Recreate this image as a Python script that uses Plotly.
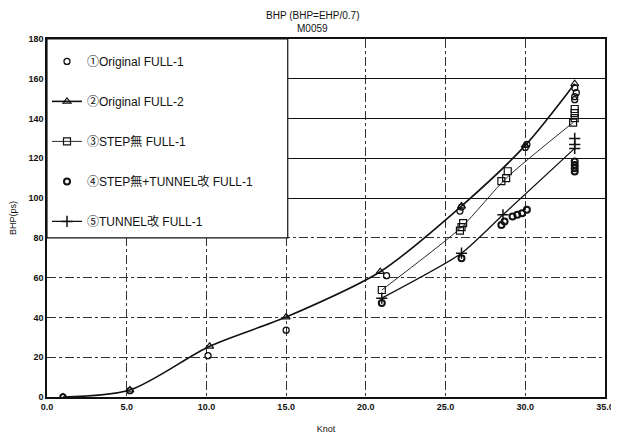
import plotly.graph_objects as go

# ---- data ----
# ① Original FULL-1 (markers only)
x1 = [1.0, 5.2, 10.1, 15.0, 21.3, 25.9, 26.0, 30.0, 30.1, 33.1, 33.2, 33.1, 33.1]
y1 = [0.0, 3.2, 20.8, 33.6, 61.0, 93.5, 95.5, 125.5, 127.0, 155.5, 153.0, 151.0, 149.5]
# ② Original FULL-2 (line + triangles)
x2 = [1.0, 5.2, 10.2, 15.0, 20.9, 26.0, 30.0, 33.1]
y2 = [0.0, 3.5, 25.5, 40.2, 63.0, 96.0, 126.5, 157.5]
# ③ STEP無 FULL-1 (line through one point per speed + extra runs)
x3 = [21.0, 26.0, 28.8, 33.0]
y3 = [53.8, 85.4, 110.0, 138.0]
x3_extra = [26.1, 25.9, 28.5, 28.9, 33.1, 33.1, 33.1]
y3_extra = [87.4, 83.7, 108.5, 113.5, 144.8, 142.7, 140.2]
# ④ STEP無+TUNNEL改 FULL-1 (markers only)
x4 = [21.0, 26.0, 28.5, 28.7, 29.2, 29.5, 29.8, 30.1, 33.1, 33.1, 33.1, 33.1]
y4 = [47.2, 69.8, 86.5, 88.2, 90.7, 91.6, 92.4, 94.1, 118.4, 116.7, 115.0, 113.4]
# ⑤ TUNNEL改 FULL-1 (line + crosses)
x5 = [21.0, 26.0, 28.6, 33.1]
y5 = [49.7, 72.3, 91.6, 125.0]
x5_extra = [33.1, 33.1]
y5_extra = [130.0, 127.0]

names = ["①Original FULL-1", "②Original FULL-2", "③STEP無 FULL-1",
         "④STEP無+TUNNEL改 FULL-1", "⑤TUNNEL改 FULL-1"]
title_lines = ["BHP (BHP=EHP/0.7)", "M0059"]

x_ticks = [0, 5, 10, 15, 20, 25, 30, 35]
y_ticks = [0, 20, 40, 60, 80, 100, 120, 140, 160, 180]

FONT = "Liberation Sans, Arial, Noto Sans CJK JP, sans-serif"
BLACK = "#111"

fig = go.Figure()

fig.add_trace(go.Scatter(x=x1, y=y1, mode="markers", name=names[0], legendgroup="g1",
                         marker=dict(symbol="circle-open", size=6, color=BLACK, line=dict(width=1.3))))
fig.add_trace(go.Scatter(x=x2, y=y2, mode="lines+markers", name=names[1], legendgroup="g2",
                         line=dict(color=BLACK, width=1.6, shape="spline", smoothing=0.8),
                         marker=dict(symbol="triangle-up-open", size=7, color=BLACK, line=dict(width=1.2))))
fig.add_trace(go.Scatter(x=x3, y=y3, mode="lines+markers", name=names[2], legendgroup="g3",
                         line=dict(color=BLACK, width=0.9, shape="spline", smoothing=0.6),
                         marker=dict(symbol="square-open", size=7, color=BLACK, line=dict(width=1.2))))
fig.add_trace(go.Scatter(x=x3_extra, y=y3_extra, mode="markers", showlegend=False, legendgroup="g3",
                         marker=dict(symbol="square-open", size=7, color=BLACK, line=dict(width=1.2))))
fig.add_trace(go.Scatter(x=x4, y=y4, mode="markers", name=names[3], legendgroup="g4", yaxis="y2",
                         marker=dict(symbol="circle-open", size=6, color=BLACK, line=dict(width=2))))
fig.add_trace(go.Scatter(x=x5, y=y5, mode="lines+markers", name=names[4], legendgroup="g5",
                         line=dict(color=BLACK, width=1.3, shape="spline", smoothing=0.6),
                         marker=dict(symbol="cross-thin-open", size=8, color=BLACK, line=dict(width=1.5))))
fig.add_trace(go.Scatter(x=x5_extra, y=y5_extra, mode="markers", showlegend=False, legendgroup="g5",
                         marker=dict(symbol="cross-thin-open", size=8, color=BLACK, line=dict(width=1.5))))

# legend frame (white box in upper-left of the plot)
fig.add_shape(type="rect", xref="x", yref="y", x0=0, x1=15.1, y0=80, y1=180,
              fillcolor="white", line=dict(color=BLACK, width=1.2), layer="above")

# two-line chart title
fig.add_annotation(text=title_lines[0], xref="paper", yref="paper", x=0.476, y=1.067,
                   xanchor="center", yanchor="middle", showarrow=False,
                   font=dict(size=10, family=FONT, color=BLACK))
fig.add_annotation(text=title_lines[1], xref="paper", yref="paper", x=0.476, y=1.028,
                   xanchor="center", yanchor="middle", showarrow=False,
                   font=dict(size=10, family=FONT, color=BLACK))

fig.update_layout(
    width=611, height=433,
    margin=dict(l=39, r=14, t=31, b=44, autoexpand=False),
    paper_bgcolor="white", plot_bgcolor="white",
    font=dict(family=FONT, color=BLACK, size=9),
    showlegend=True,
    legend=dict(x=0.0, y=0.978, xanchor="left", yanchor="top",
                bgcolor="rgba(0,0,0,0)", borderwidth=0,
                font=dict(size=12, family=FONT, color=BLACK),
                tracegroupgap=21, itemwidth=30),
    xaxis=dict(range=[0, 35], tickvals=x_ticks, tickformat=".1f", automargin=False,
               showgrid=True, gridcolor="#333", gridwidth=1, griddash="dashdot",
               showline=True, linecolor=BLACK, linewidth=1.5, mirror=True,
               zeroline=False, ticks="",
               tickfont=dict(size=9, family=FONT, weight="bold"),
               title=dict(text="Knot", font=dict(size=9, family=FONT, color=BLACK), standoff=15)),
    yaxis=dict(range=[0, 180], tickvals=y_ticks, automargin=False,
               showgrid=True, gridcolor="#333", gridwidth=1, griddash="dashdot",
               showline=True, linecolor=BLACK, linewidth=1.5, mirror=True,
               zeroline=False, ticks="",
               tickfont=dict(size=9, family=FONT, weight="bold"),
               title=dict(text="BHP(ps)", font=dict(size=9, family=FONT, color=BLACK), standoff=17)),
    yaxis2=dict(range=[0, 180], overlaying="y", side="left", tickvals=[100, 120, 140, 160],
                automargin=False,
                showgrid=True, gridcolor=BLACK, gridwidth=1.2, showticklabels=False,
                showline=False, zeroline=False, ticks=""),
)

fig.write_html("out.html")
